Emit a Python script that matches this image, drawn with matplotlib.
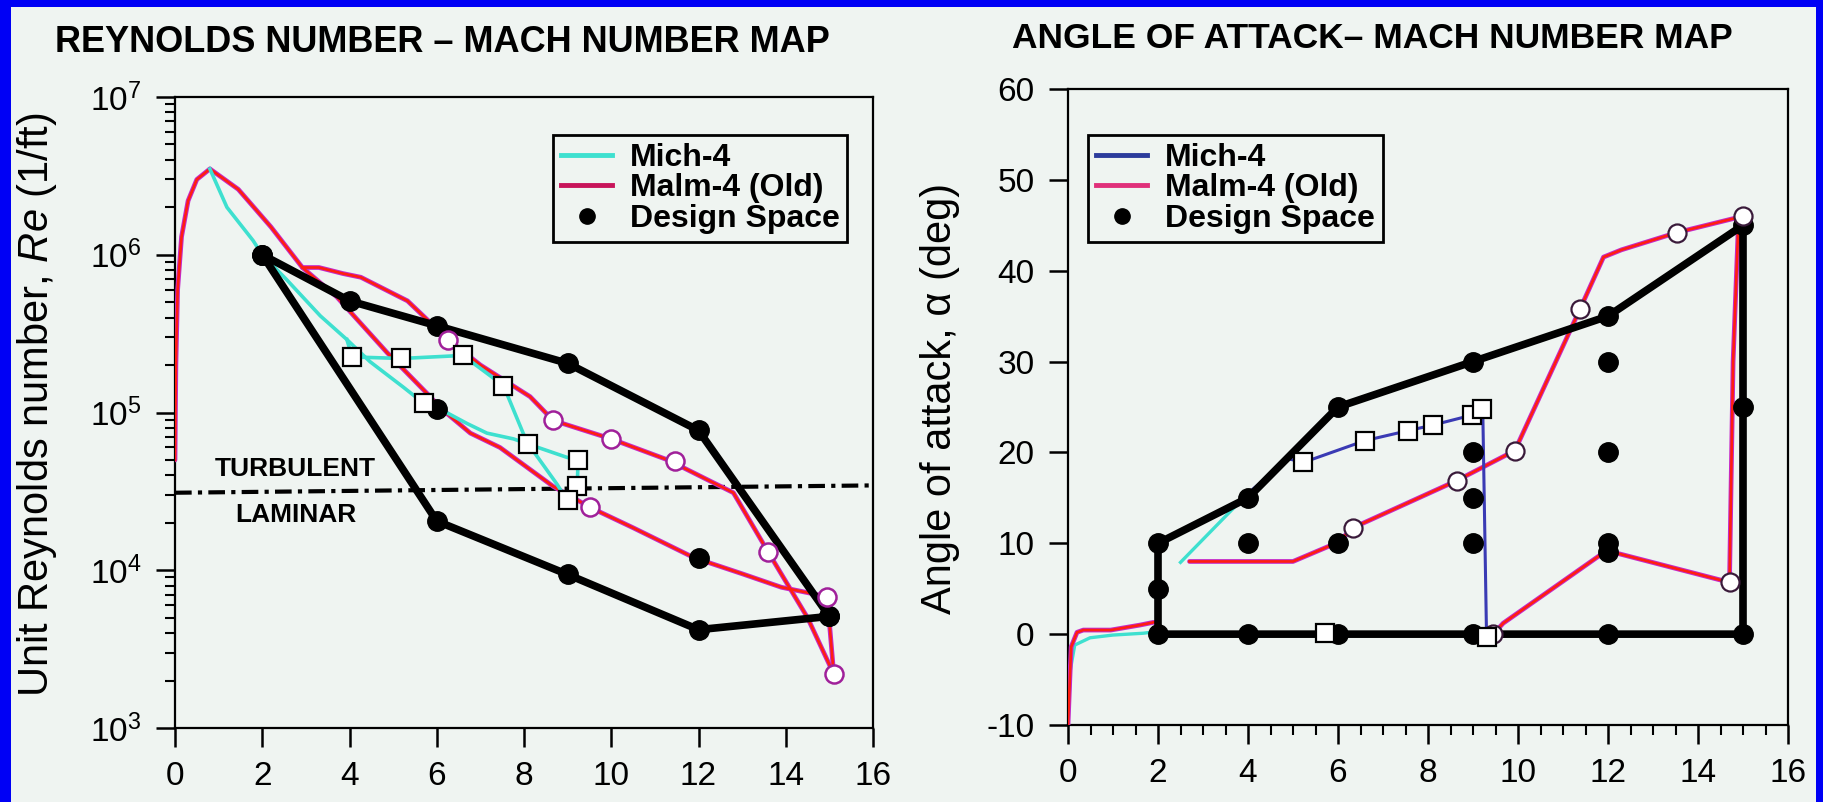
import matplotlib
matplotlib.use("Agg")
import matplotlib.pyplot as plt
from matplotlib import font_manager
from matplotlib.lines import Line2D
from matplotlib.patches import Rectangle

# ---------------------------------------------------------------- data
# Reynolds number map: Mach number vs unit Reynolds number (1/ft)
asc_mach = [0.0, 0.02, 0.06, 0.15, 0.3, 0.5, 0.8]
asc_re = [5.0e4, 2.0e5, 6.0e5, 1.3e6, 2.2e6, 3.0e6, 3.5e6]

malm_a_mach = [0.8, 1.45, 2.2, 2.92, 3.3, 3.85, 4.26, 5.33, 6.26, 7.0, 8.14, 8.67,
               10.0, 11.3, 12.8, 13.6, 14.5, 15.1]
malm_a_re = [3.5e6, 2.6e6, 1.5e6, 8.3e5, 8.3e5, 7.6e5, 7.2e5, 5.1e5, 2.9e5, 2.0e5,
             1.26e5, 8.9e4, 6.8e4, 5.0e4, 3.1e4, 1.3e4, 5.0e3, 2.2e3]
malm_a_circ_mach = [6.26, 8.67, 10.0, 11.45, 13.6, 15.1]
malm_a_circ_re = [2.9e5, 8.9e4, 6.8e4, 4.9e4, 1.3e4, 2.2e3]

malm_b_mach = [2.92, 3.71, 4.86, 5.85, 6.08, 6.77, 7.45, 8.67, 9.52, 10.5, 11.9,
               13.0, 13.9, 14.95, 15.1]
malm_b_re = [8.3e5, 5.4e5, 2.4e5, 1.26e5, 1.07e5, 7.4e4, 6.0e4, 3.4e4, 2.5e4,
             1.86e4, 1.2e4, 9.5e3, 7.8e3, 6.8e3, 2.2e3]
malm_b_circ_mach = [9.52, 14.95]
malm_b_circ_re = [2.5e4, 6.8e3]

mich_a_mach = [0.8, 1.19, 1.79, 2.0, 2.57, 3.33, 3.94, 4.47, 5.23, 5.69, 6.08, 6.7,
               7.15, 7.76, 8.1, 8.76, 8.98]
mich_a_re = [3.5e6, 2.0e6, 1.23e6, 1.0e6, 6.9e5, 4.1e5, 2.9e5, 2.1e5, 1.45e5,
             1.15e5, 1.05e5, 8.5e4, 7.4e4, 6.8e4, 6.3e4, 3.5e4, 2.8e4]
mich_b_mach = [3.94, 4.06, 5.19, 6.6, 7.53, 7.98, 8.1, 8.98, 9.24, 9.22]
mich_b_re = [2.9e5, 2.25e5, 2.2e5, 2.3e5, 1.48e5, 7.4e4, 6.3e4, 5.2e4, 5.0e4, 3.4e4]
mich_sq_mach = [4.06, 5.19, 6.6, 7.53, 5.7, 8.1, 9.24, 9.22, 9.0]
mich_sq_re = [2.25e5, 2.2e5, 2.3e5, 1.48e5, 1.15e5, 6.3e4, 5.0e4, 3.4e4, 2.8e4]

transition_mach = [0, 16]
transition_re = [3.1e4, 3.45e4]

ds_upper_mach = [2, 4, 6, 9, 12, 15]
ds_upper_re = [1.0e6, 5.1e5, 3.55e5, 2.05e5, 7.7e4, 5.1e3]
ds_lower_mach = [2, 6, 9, 12, 15]
ds_lower_re = [1.0e6, 2.05e4, 9.4e3, 4.2e3, 5.1e3]
ds_inner_mach = [6, 12]
ds_inner_re = [1.05e5, 1.2e4]

re_ticks = [1e3, 1e4, 1e5, 1e6, 1e7]
re_tick_labels = ["$10^{3}$", "$10^{4}$", "$10^{5}$", "$10^{6}$", "$10^{7}$"]
mach_ticks = [0, 2, 4, 6, 8, 10, 12, 14, 16]

# Angle of attack map: Mach number vs angle of attack (deg)
aoa_asc_mich_mach = [0.0, 0.05, 0.15, 0.49, 1.0, 1.67, 2.0]
aoa_asc_mich = [-10, -4, -1.2, -0.4, -0.1, 0.1, 0.3]
aoa_asc_malm_mach = [0.0, 0.04, 0.07, 0.2, 0.34, 0.95, 1.6, 1.9]
aoa_asc_malm = [-10, -5, -1.4, 0.2, 0.45, 0.45, 1.0, 1.3]

aoa_mich_mach = [2.5, 4.0, 4.9, 5.23, 6.6, 7.56, 8.1, 8.97, 9.16, 9.22, 9.3]
aoa_mich = [7.9, 15.5, 19.3, 18.9, 21.3, 22.4, 23.0, 24.1, 24.6, 23.8, 0.0]
aoa_mich_sq_mach = [5.23, 6.6, 7.56, 8.1, 8.97, 9.2, 5.7, 9.3]
aoa_mich_sq = [18.9, 21.3, 22.4, 23.0, 24.1, 24.8, 0.1, -0.3]

aoa_malm_a_mach = [2.7, 5.0, 6.0, 6.33, 8.64, 9.93, 11.38, 11.9, 12.3, 13.53, 15.0]
aoa_malm_a = [8, 8, 10.1, 11.7, 16.9, 20.2, 35.8, 41.5, 42.3, 44.2, 46]
aoa_malm_b_mach = [9.45, 9.67, 11.97, 14.7, 14.78, 14.9]
aoa_malm_b = [0, 1.2, 9.2, 5.7, 30, 45.5]
aoa_malm_circ_mach = [6.33, 8.64, 9.93, 11.38, 13.53, 15.0, 9.45, 14.7]
aoa_malm_circ = [11.7, 16.9, 20.2, 35.8, 44.2, 46, 0.0, 5.7]

aoa_ds_mach = [2, 2, 4, 6, 9, 12, 15, 15, 2]
aoa_ds = [0, 10, 15, 25, 30, 35, 45, 0, 0]
aoa_pts_mach = [2, 2, 2, 4, 4, 4, 6, 6, 6, 9, 9, 9, 9, 9, 12, 12, 12, 12, 12, 12,
                15, 15, 15]
aoa_pts = [0, 5, 10, 0, 10, 15, 0, 10, 25, 0, 10, 15, 20, 30, 0, 9, 10, 20, 30, 35,
           0, 25, 45]
aoa_ticks = [-10, 0, 10, 20, 30, 40, 50, 60]

# ---------------------------------------------------------------- style
names = {f.name for f in font_manager.fontManager.ttflist}
SANS = "Liberation Sans" if "Liberation Sans" in names else "DejaVu Sans"

plt.rcParams["font.family"] = [SANS, "DejaVu Sans"]
plt.rcParams["mathtext.fontset"] = "custom"
plt.rcParams["mathtext.rm"] = SANS
plt.rcParams["mathtext.it"] = SANS + ":italic"
plt.rcParams["mathtext.bf"] = SANS + ":bold"

BG = "#eff4f1"
BLUE = "#0000f5"
CYAN = "#3ee0cf"
MICH_R = "#3a3ab4"
RED = "#ff1e10"
MAG = "#c42ac8"

W, H = 1823, 802
fig = plt.figure(figsize=(W / 100, H / 100), dpi=100, facecolor=BLUE)
fig.patches.append(Rectangle((11 / W, 0), (1816 - 11) / W, (H - 7) / H,
                             transform=fig.transFigure, facecolor=BG,
                             edgecolor="none", zorder=-5))


def malm_line(ax, x, y):
    ax.plot(x, y, color=MAG, lw=3.4, solid_capstyle="round", zorder=3)
    ax.plot(x, y, color=RED, lw=1.9, zorder=3.1)


def style_axes(ax):
    ax.set_facecolor("none")
    for s in ax.spines.values():
        s.set_linewidth(1.6)
        s.set_color("black")


# ---------------------------------------------------------------- left panel
ax1 = fig.add_axes([175 / W, (H - 728) / H, 698 / W, 631 / H])
style_axes(ax1)
ax1.set_yscale("log")
ax1.set_xlim(0, 16)
ax1.set_ylim(1e3, 1e7)

malm_line(ax1, asc_mach, asc_re)
malm_line(ax1, malm_a_mach, malm_a_re)
malm_line(ax1, malm_b_mach, malm_b_re)
ax1.plot(mich_a_mach, mich_a_re, color=CYAN, lw=2.6, zorder=3.2)
ax1.plot(mich_b_mach, mich_b_re, color=CYAN, lw=2.6, zorder=3.2)

ax1.plot(transition_mach, transition_re, color="black", lw=3, ls=(0, (4, 1.5, 1, 1.5)),
         zorder=2.5)
ax1.text(2.75, 4.4e4, "TURBULENT", fontsize=19, fontweight="bold",
         ha="center", va="center")
ax1.text(2.77, 2.24e4, "LAMINAR", fontsize=19, fontweight="bold",
         ha="center", va="center")

ax1.plot(ds_upper_mach, ds_upper_re, color="black", lw=5.5, marker="o", ms=14,
         zorder=4, solid_joinstyle="round")
ax1.plot(ds_lower_mach, ds_lower_re, color="black", lw=5.5, marker="o", ms=14,
         zorder=4, solid_joinstyle="round")
ax1.plot(ds_inner_mach, ds_inner_re, ls="none", marker="o", ms=14, color="black",
         zorder=4)

ax1.plot(malm_a_circ_mach, malm_a_circ_re, ls="none", marker="o", ms=13,
         mfc="white", mec="#a0209a", mew=1.8, zorder=5)
ax1.plot(malm_b_circ_mach, malm_b_circ_re, ls="none", marker="o", ms=13,
         mfc="white", mec="#a0209a", mew=1.8, zorder=5)
ax1.plot(mich_sq_mach, mich_sq_re, ls="none", marker="s", ms=12.5,
         mfc="white", mec="black", mew=1.6, zorder=5)

ax1.set_xticks(mach_ticks)
ax1.set_xticklabels([str(t) for t in mach_ticks])
ax1.set_yticks(re_ticks)
ax1.set_yticklabels(re_tick_labels)
ax1.tick_params(axis="both", which="major", direction="out", length=14, width=1.8,
                labelsize=24, pad=10)
ax1.tick_params(axis="y", which="minor", direction="out", length=7, width=1.5)
ax1.tick_params(axis="x", which="minor", bottom=False)

ax1.set_ylabel("Unit Reynolds number, $Re$ (1/ft)", fontsize=30, va="center")
ax1.yaxis.set_label_coords((37 - 175) / 698, 0.512)

leg1 = ax1.legend(
    handles=[Line2D([], [], color=CYAN, lw=3.5),
             Line2D([], [], color="#c8145a", lw=3.5),
             Line2D([], [], ls="none", marker="o", ms=11, color="black")],
    labels=["Mich-4", "Malm-4 (Old)", "Design Space"],
    loc="upper left", bbox_to_anchor=(0.5415, 0.940), borderaxespad=0,
    prop={"family": SANS, "weight": "bold", "size": 23},
    handlelength=1.6, handletextpad=0.55, labelspacing=0.02, borderpad=0.25,
    fancybox=False, framealpha=1, facecolor=BG, edgecolor="black")
leg1.get_frame().set_linewidth(2)

fig.text(442 / W, 1 - 43 / H, "REYNOLDS NUMBER \u2013 MACH NUMBER MAP",
         fontsize=26, fontweight="bold", ha="center", va="center")

# ---------------------------------------------------------------- right panel
ax2 = fig.add_axes([1068 / W, (H - 725) / H, 720 / W, 636 / H])
style_axes(ax2)
ax2.set_xlim(0, 16)
ax2.set_ylim(-10, 60)

ax2.plot(aoa_asc_mich_mach, aoa_asc_mich, color=CYAN, lw=2.4, zorder=3)
malm_line(ax2, aoa_asc_malm_mach, aoa_asc_malm)
malm_line(ax2, aoa_malm_a_mach, aoa_malm_a)
malm_line(ax2, aoa_malm_b_mach, aoa_malm_b)
ax2.plot(aoa_mich_mach[:2], aoa_mich[:2], color=CYAN, lw=2.4, zorder=3.2)
ax2.plot(aoa_mich_mach[1:], aoa_mich[1:], color=MICH_R, lw=2.2, zorder=3.2)

ax2.plot(aoa_ds_mach, aoa_ds, color="black", lw=5.5, zorder=4,
         solid_joinstyle="round")
ax2.plot(aoa_pts_mach, aoa_pts, ls="none", marker="o", ms=14, color="black", zorder=4)

ax2.plot(aoa_malm_circ_mach, aoa_malm_circ, ls="none", marker="o", ms=13,
         mfc="white", mec="#3a1a3a", mew=1.6, zorder=5)
ax2.plot(aoa_mich_sq_mach, aoa_mich_sq, ls="none", marker="s", ms=12.5,
         mfc="white", mec="black", mew=1.6, zorder=5)

ax2.set_xticks(mach_ticks)
ax2.set_xticklabels([str(t) for t in mach_ticks])
ax2.set_xticks([m / 2 for m in range(33)], minor=True)
ax2.set_yticks(aoa_ticks)
ax2.set_yticklabels([str(t) for t in aoa_ticks])
ax2.tick_params(axis="both", which="major", direction="out", length=14, width=1.8,
                labelsize=24, pad=10)
ax2.tick_params(axis="x", which="minor", direction="out", length=7, width=1.5)

ax2.set_ylabel("Angle of attack, \u03b1 (deg)", fontsize=30, va="center")
ax2.yaxis.set_label_coords((940 - 1068) / 720, 0.514)

leg2 = ax2.legend(
    handles=[Line2D([], [], color="#2c3c9c", lw=3.5),
             Line2D([], [], color="#e0307a", lw=3.5),
             Line2D([], [], ls="none", marker="o", ms=11, color="black")],
    labels=["Mich-4", "Malm-4 (Old)", "Design Space"],
    loc="upper left", bbox_to_anchor=(0.028, 0.928), borderaxespad=0,
    prop={"family": SANS, "weight": "bold", "size": 23},
    handlelength=1.6, handletextpad=0.55, labelspacing=0.02, borderpad=0.25,
    fancybox=False, framealpha=1, facecolor=BG, edgecolor="black")
leg2.get_frame().set_linewidth(2)

fig.text(1372 / W, 1 - 38 / H, "ANGLE OF ATTACK\u2013 MACH NUMBER MAP",
         fontsize=25.5, fontweight="bold", ha="center", va="center")

fig.savefig("out.png", dpi=100, facecolor=BLUE)
